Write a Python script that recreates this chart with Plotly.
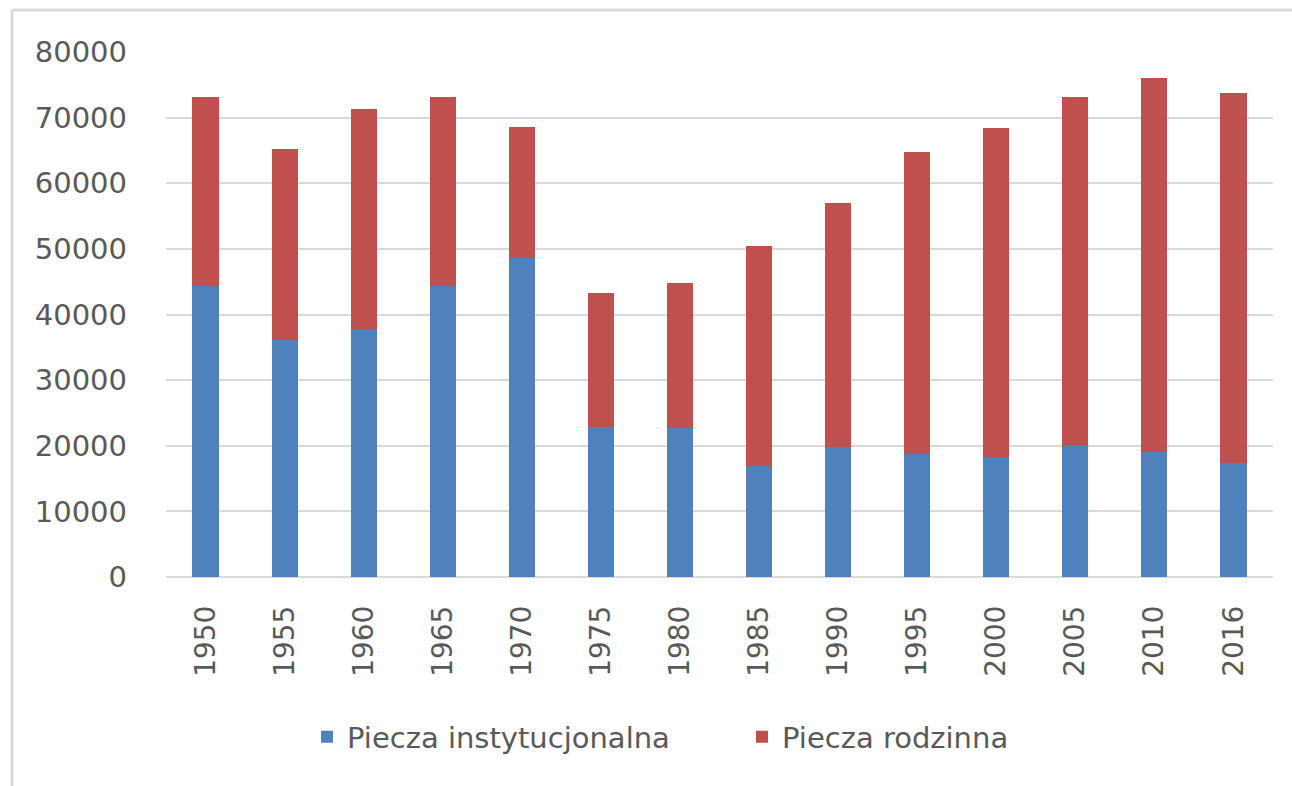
import plotly.graph_objects as go

years = ["1950", "1955", "1960", "1965", "1970", "1975", "1980", "1985",
         "1990", "1995", "2000", "2005", "2010", "2016"]
instytucjonalna = [44400, 36100, 37800, 44400, 48600, 22900, 22700, 16900,
                   19800, 18800, 18300, 20100, 19000, 17400]
rodzinna = [28800, 29100, 33500, 28800, 20000, 20400, 22100, 33600,
            37200, 46000, 50100, 53100, 57100, 56400]
y_ticks = [0, 10000, 20000, 30000, 40000, 50000, 60000, 70000, 80000]

W, H = 1292, 786
L, R, T, B = 166, 19, 52, 209
pw, ph = W - L - R, H - T - B

def px(x):
    return (x - L) / pw

def py(y):
    return (H - B - y) / ph

fig = go.Figure()
fig.add_trace(go.Bar(x=years, y=instytucjonalna, name="Piecza instytucjonalna",
                     marker=dict(color="#4f81bd", line=dict(width=0))))
fig.add_trace(go.Bar(x=years, y=rodzinna, name="Piecza rodzinna",
                     marker=dict(color="#c0504d", line=dict(width=0))))

grey = "#d9d9d9"
fig.update_layout(
    barmode="stack",
    bargap=0.67,
    width=W, height=H,
    margin=dict(l=L, r=R, t=T, b=B, autoexpand=False),
    paper_bgcolor="white", plot_bgcolor="white",
    font=dict(family="DejaVu Sans, sans-serif", color="#595959", size=28),
    xaxis=dict(type="category", tickangle=-90, showgrid=False, showline=False,
               ticks="", tickfont=dict(size=28), ticklabelstandoff=22),
    yaxis=dict(range=[0, 80000], tickvals=y_ticks, ticktext=[str(v) for v in y_ticks],
               showgrid=True, gridcolor=grey, gridwidth=2, zeroline=True,
               zerolinecolor=grey, zerolinewidth=2, showline=False, ticks="",
               tickfont=dict(size=29), ticklabelstandoff=38),
    legend=dict(orientation="h", x=px(742), y=py(737), xanchor="center", yanchor="middle",
                font=dict(size=29, color="#595959"), itemwidth=30, traceorder="normal",
                entrywidth=390, entrywidthmode="pixels"),
    showlegend=True,
    shapes=[
        dict(type="line", xref="paper", yref="paper", x0=px(12), x1=px(1300),
             y0=py(10), y1=py(10), line=dict(color=grey, width=3)),
        dict(type="line", xref="paper", yref="paper", x0=px(12), x1=px(12),
             y0=py(10), y1=py(800), line=dict(color=grey, width=3)),
    ],
)

fig.write_html("out.html", config={"displayModeBar": False},
               post_script="document.body.style.margin='0';")
